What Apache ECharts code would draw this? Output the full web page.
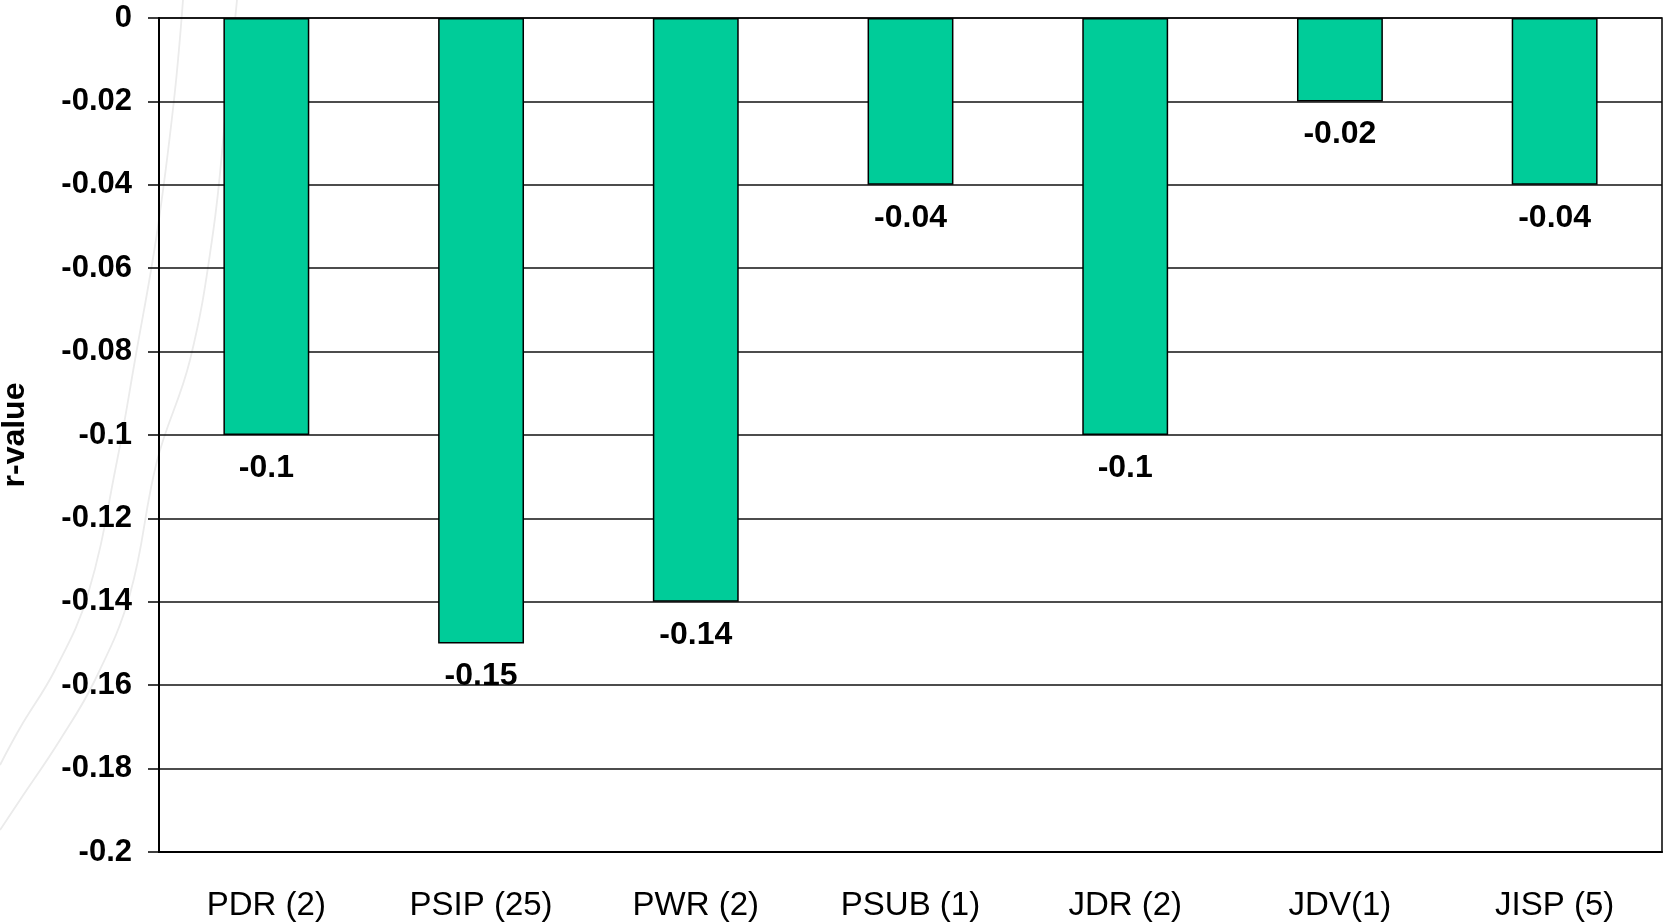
<!DOCTYPE html>
<html>
<head>
<meta charset="utf-8">
<script src="https://cdn.jsdelivr.net/npm/echarts@6/dist/echarts.min.js"></script>
<style>
html,body{margin:0;padding:0;background:#fff;}
#chart{width:1666px;height:922px;}
</style>
</head>
<body>
<div id="chart"></div>
<script>
const categories = ['PDR (2)', 'PSIP (25)', 'PWR (2)', 'PSUB (1)', 'JDR (2)', 'JDV(1)', 'JISP (5)'];
const rValues = [-0.1, -0.15, -0.14, -0.04, -0.1, -0.02, -0.04];
const yTicks = [0, -0.02, -0.04, -0.06, -0.08, -0.1, -0.12, -0.14, -0.16, -0.18, -0.2];

const chart = echarts.init(document.getElementById('chart'), null, {renderer: 'canvas'});
const FONT = '"Liberation Sans", Arial, Helvetica, sans-serif';

chart.setOption({
  backgroundColor: '#ffffff',
  animation: false,
  graphic: [
    {type: 'polyline', z: -10, silent: true,
      shape: {points: [[183,0],[174,100],[157,233],[135,360],[117,461],[88,594],[55,670],[20,728],[0,765]], smooth: 0.4},
      style: {stroke: '#ebebeb', lineWidth: 1.8, fill: null}},
    {type: 'polyline', z: -10, silent: true,
      shape: {points: [[237,0],[226,110],[213,233],[190,360],[157,461],[130,594],[95,680],[60,740],[20,800],[0,830]], smooth: 0.4},
      style: {stroke: '#ebebeb', lineWidth: 1.8, fill: null}}
  ],
  grid: {left: 159, top: 18, right: 4, bottom: 70, outerBoundsMode: 'none', containLabel: false,
    show: true, borderColor: '#000', borderWidth: 1.5, backgroundColor: 'transparent'},
  xAxis: {
    type: 'category',
    data: categories,
    position: 'bottom',
    axisLine: {onZero: false, lineStyle: {color: '#000', width: 2}},
    axisTick: {show: false},
    axisLabel: {color: '#000', fontFamily: FONT, fontSize: 33, margin: 37},
    splitLine: {show: false}
  },
  yAxis: {
    type: 'value',
    min: -0.2,
    max: 0,
    interval: 0.02,
    name: 'r-value',
    nameLocation: 'middle',
    nameGap: 128,
    nameRotate: 90,
    nameTextStyle: {color: '#000', fontFamily: FONT, fontSize: 32, fontWeight: 'bold'},
    axisLine: {show: true, lineStyle: {color: '#000', width: 2}},
    axisTick: {show: true, inside: false, length: 11, lineStyle: {color: '#000', width: 1.5}},
    axisLabel: {
      color: '#000', fontFamily: FONT, fontSize: 31, fontWeight: 'bold', margin: 27,
      formatter: function (v) {
        const r = Math.round(v * 100) / 100;
        const found = yTicks.find(t => Math.abs(t - r) < 1e-9);
        return String(found === undefined ? r : found);
      }
    },
    splitLine: {show: true, lineStyle: {color: '#111', width: 1.5}}
  },
  series: [{
    type: 'bar',
    data: rValues,
    barWidth: '40%',
    itemStyle: {color: '#00CC99', borderColor: '#000', borderWidth: 1.5},
    label: {
      show: true,
      position: 'bottom',
      distance: 17,
      color: '#000',
      fontFamily: FONT,
      fontSize: 32,
      fontWeight: 'bold',
      formatter: function (p) { return String(p.value); }
    }
  }]
});
</script>
</body>
</html>
